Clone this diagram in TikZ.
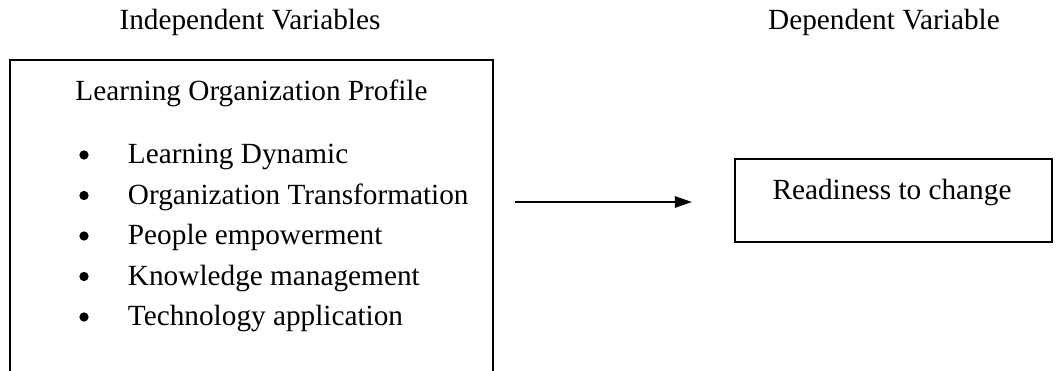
\documentclass[tikz,border=0pt]{standalone}
\usepackage{fontspec}
\setmainfont{Liberation Serif}
\usetikzlibrary{arrows.meta}

\begin{document}
\begin{tikzpicture}[x=0.41pt, y=-0.41pt, line width=0.8pt,
    every node/.style={font=\fontsize{12}{14}\selectfont, inner sep=0pt},
    item/.style={anchor=base west},
    dot/.style={circle, fill, minimum size=3.8pt}]
    \useasboundingbox (0,0) rectangle (1056,371);

    % headings
    \node[anchor=base] (indep) at (250,30) {Independent Variables};
    \node[anchor=base] (dep) at (884,30) {Dependent Variable};

    % left box, open at the bottom
    \draw (10,371) -- (10,60) -- (493,60) -- (493,371);
    \node[anchor=base] (profile) at (251.5,101) {Learning Organization Profile};

    \node[dot] (d1) at (84,155) {};
    \node[dot] (d2) at (84,195.5) {};
    \node[dot] (d3) at (84,236) {};
    \node[dot] (d4) at (84,276.5) {};
    \node[dot] (d5) at (84,317) {};
    \node[item] (i1) at (127,164) {Learning Dynamic};
    \node[item] (i2) at (127,204.5) {Organization Transformation};
    \node[item] (i3) at (127,245) {People empowerment};
    \node[item] (i4) at (127,285.5) {Knowledge management};
    \node[item] (i5) at (127,326) {Technology application};

    % right box
    \node[draw, anchor=north west, minimum width=130pt, minimum height=34pt] (depbox) at (734,158) {};
    \node[anchor=base] (readiness) at (892,200) {Readiness to change};

    \coordinate (a1) at (515,202);
    \coordinate (a2) at (692,202);
    \draw[-{Triangle[length=7pt, width=4.6pt]}] (a1) -- (a2);
  \end{tikzpicture}
\end{document}
